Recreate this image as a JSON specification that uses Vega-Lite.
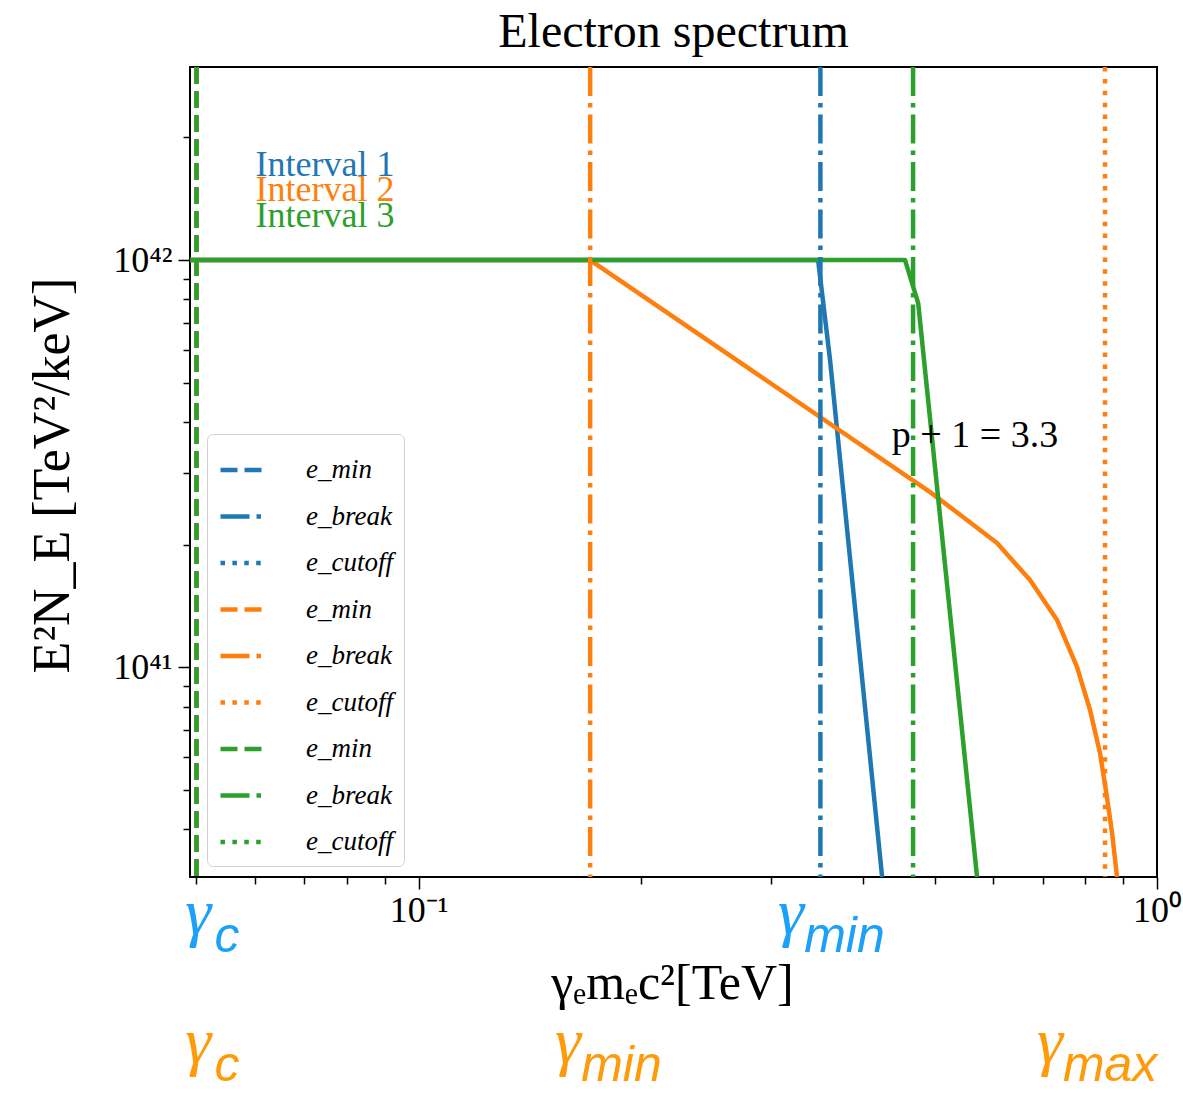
{
  "$schema": "https://vega.github.io/schema/vega-lite/v6.json",
  "width": 967,
  "height": 810,
  "autosize": {"type": "none"},
  "padding": {"left": 190, "top": 67, "right": 26, "bottom": 217},
  "background": "white",
  "config": {
    "view": {"stroke": "#000", "strokeWidth": 2},
    "font": "Liberation Serif"
  },
  "title": {
    "text": "Electron spectrum",
    "fontSize": 48,
    "font": "Liberation Serif",
    "fontWeight": "normal",
    "color": "#000",
    "anchor": "middle",
    "offset": 8
  },
  "datasets": {
    "curves": [
      {"interval": "1", "E": 0.049, "F": 1e42},
      {"interval": "1", "E": 0.3475, "F": 1e42},
      {"interval": "1", "E": 0.3607, "F": 5.68e41},
      {"interval": "1", "E": 0.4243, "F": 3.05e40},
      {"interval": "2", "E": 0.049, "F": 1e42},
      {"interval": "2", "E": 0.1707, "F": 1e42},
      {"interval": "2", "E": 0.4928, "F": 2.69e41},
      {"interval": "2", "E": 0.5461, "F": 2.337e41},
      {"interval": "2", "E": 0.6072, "F": 2.017e41},
      {"interval": "2", "E": 0.673, "F": 1.636e41},
      {"interval": "2", "E": 0.7322, "F": 1.305e41},
      {"interval": "2", "E": 0.7794, "F": 1.0e41},
      {"interval": "2", "E": 0.8115, "F": 7.84e40},
      {"interval": "2", "E": 0.8372, "F": 6.15e40},
      {"interval": "2", "E": 0.8555, "F": 4.79e40},
      {"interval": "2", "E": 0.8693, "F": 3.91e40},
      {"interval": "2", "E": 0.8827, "F": 3.05e40},
      {"interval": "3", "E": 0.049, "F": 1e42},
      {"interval": "3", "E": 0.4558, "F": 1e42},
      {"interval": "3", "E": 0.4748, "F": 7.84e41},
      {"interval": "3", "E": 0.5705, "F": 3.05e40}
    ],
    "vlines": [
      {"key": "1min", "E": 0.05},
      {"key": "1break", "E": 0.35},
      {"key": "2min", "E": 0.05},
      {"key": "2break", "E": 0.1707},
      {"key": "2cutoff", "E": 0.8503},
      {"key": "3min", "E": 0.05},
      {"key": "3break", "E": 0.4673}
    ],
    "notes": [
      {"kind": "interval", "g": "1", "E": 0.0601, "F": 1.711e42, "t": "Interval 1"},
      {"kind": "interval", "g": "2", "E": 0.0601, "F": 1.486e42, "t": "Interval 2"},
      {"kind": "interval", "g": "3", "E": 0.0601, "F": 1.283e42, "t": "Interval 3"},
      {"kind": "note", "g": "note", "E": 0.5668, "F": 3.69e41, "t": "p + 1 = 3.3"},
      {"kind": "gamma", "g": "upper", "E": 0.04829, "F": 2.208e40, "t": "γ"},
      {"kind": "sub", "g": "upper", "E": 0.0529, "F": 1.994e40, "t": "c"},
      {"kind": "gamma", "g": "upper", "E": 0.3067, "F": 2.208e40, "t": "γ"},
      {"kind": "sub", "g": "upper", "E": 0.3327, "F": 1.994e40, "t": "min"},
      {"kind": "gamma", "g": "lower", "E": 0.04829, "F": 1.064e40, "t": "γ"},
      {"kind": "sub", "g": "lower", "E": 0.0529, "F": 9.62e39, "t": "c"},
      {"kind": "gamma", "g": "lower", "E": 0.153, "F": 1.064e40, "t": "γ"},
      {"kind": "sub", "g": "lower", "E": 0.166, "F": 9.62e39, "t": "min"},
      {"kind": "gamma", "g": "lower", "E": 0.6878, "F": 1.064e40, "t": "γ"},
      {"kind": "sub", "g": "lower", "E": 0.7457, "F": 9.62e39, "t": "max"}
    ]
  },
  "layer": [
    {
      "data": {"name": "curves"},
      "mark": {"type": "line", "strokeWidth": 4.5, "clip": true, "strokeJoin": "round"},
      "encoding": {
        "x": {
          "field": "E", "type": "quantitative",
          "scale": {"type": "log", "domain": [0.049, 1.0], "nice": false},
          "axis": {
            "values": [0.05, 0.06, 0.07, 0.08, 0.09, 0.1, 0.2, 0.3, 0.4, 0.5, 0.6, 0.7, 0.8, 0.9, 1],
            "labelExpr": "datum.value > 0.095 && datum.value < 0.105 ? '10⁻¹' : (datum.value > 0.95 ? '10⁰' : '')",
            "labelFont": "Liberation Serif",
            "labelFontSize": 36,
            "labelColor": "#000",
            "labelPadding": 4,
            "labelOverlap": false,
            "labelFlush": false,
            "tickColor": "#000",
            "tickWidth": 1.5,
            "tickSize": {"condition": {"test": "abs(log(datum.value)/LN10 - round(log(datum.value)/LN10)) < 1e-6", "value": 12}, "value": 7},
            "domain": false,
            "grid": false,
            "title": "γₑmₑc²[TeV]",
            "titleFont": "Liberation Serif",
            "titleFontSize": 50,
            "titleFontWeight": "normal",
            "titleColor": "#000",
            "titleX": 482,
            "titleY": 106,
            "titleAlign": "center",
            "titleBaseline": "middle"
          }
        },
        "y": {
          "field": "F", "type": "quantitative",
          "scale": {"type": "log", "domain": [3.05e40, 2.98e42], "nice": false},
          "axis": {
            "values": [4e40, 5e40, 6e40, 7e40, 8e40, 9e40, 1e41, 2e41, 3e41, 4e41, 5e41, 6e41, 7e41, 8e41, 9e41, 1e42, 2e42],
            "labelExpr": "datum.value > 9.5e41 && datum.value < 1.05e42 ? '10⁴²' : (datum.value > 9.5e40 && datum.value < 1.05e41 ? '10⁴¹' : '')",
            "labelFont": "Liberation Serif",
            "labelFontSize": 36,
            "labelColor": "#000",
            "labelPadding": 6,
            "labelOverlap": false,
            "labelFlush": false,
            "tickColor": "#000",
            "tickWidth": 1.5,
            "tickSize": {"condition": {"test": "abs(log(datum.value)/LN10 - round(log(datum.value)/LN10)) < 1e-6", "value": 12}, "value": 7},
            "domain": false,
            "grid": false,
            "title": "E²N_E [TeV²/keV]",
            "titleFont": "Liberation Serif",
            "titleFontSize": 52,
            "titleFontWeight": "normal",
            "titleColor": "#000",
            "titleAngle": -90,
            "titleX": -138,
            "titleY": 408,
            "titleAlign": "center",
            "titleBaseline": "middle"
          }
        },
        "stroke": {
          "field": "interval", "type": "nominal",
          "scale": {"domain": ["1", "2", "3"], "range": ["#1f77b4", "#ff7f0e", "#2ca02c"]},
          "legend": null
        }
      }
    },
    {
      "data": {"name": "vlines"},
      "mark": {"type": "rule", "strokeWidth": 4.5},
      "encoding": {
        "x": {
          "field": "E", "type": "quantitative",
          "scale": {"type": "log", "domain": [0.049, 1.0], "nice": false}
        },
        "color": {
          "field": "key", "type": "nominal",
          "scale": {
            "domain": ["1min", "1break", "1cutoff", "2min", "2break", "2cutoff", "3min", "3break", "3cutoff"],
            "range": ["#1f77b4", "#1f77b4", "#1f77b4", "#ff7f0e", "#ff7f0e", "#ff7f0e", "#2ca02c", "#2ca02c", "#2ca02c"]
          },
          "legend": {
            "orient": "none", "legendX": 17, "legendY": 367, "title": null,
            "symbolType": "stroke", "symbolSize": 2025, "symbolStrokeWidth": 4.5,
            "labelExpr": "indexof(datum.label, 'min') >= 0 ? 'e_min' : (indexof(datum.label, 'break') >= 0 ? 'e_break' : 'e_cutoff')",
            "labelFont": "Liberation Serif", "labelFontStyle": "italic", "labelFontSize": 27, "labelColor": "#000",
            "labelOffset": 38, "padding": 11, "rowPadding": 8.5,
            "fillColor": "white", "strokeColor": "#d0d0d0", "cornerRadius": 6
          }
        },
        "strokeDash": {
          "field": "key", "type": "nominal",
          "scale": {
            "domain": ["1min", "1break", "1cutoff", "2min", "2break", "2cutoff", "3min", "3break", "3cutoff"],
            "range": [[17, 7], [29, 7, 4.5, 7], [4.5, 7.4], [17, 7], [29, 7, 4.5, 7], [4.5, 7.4], [17, 7], [29, 7, 4.5, 7], [4.5, 7.4]]
          },
          "legend": {
            "orient": "none", "legendX": 17, "legendY": 367, "title": null,
            "symbolType": "stroke", "symbolSize": 2025, "symbolStrokeWidth": 4.5,
            "labelExpr": "indexof(datum.label, 'min') >= 0 ? 'e_min' : (indexof(datum.label, 'break') >= 0 ? 'e_break' : 'e_cutoff')",
            "labelFont": "Liberation Serif", "labelFontStyle": "italic", "labelFontSize": 27, "labelColor": "#000",
            "labelOffset": 38, "padding": 11, "rowPadding": 8.5,
            "fillColor": "white", "strokeColor": "#d0d0d0", "cornerRadius": 6
          }
        }
      }
    },
    {
      "data": {"name": "notes"},
      "transform": [{"filter": "datum.kind == 'interval'"}],
      "mark": {"type": "text", "align": "left", "baseline": "middle", "font": "Liberation Serif", "fontSize": 36},
      "encoding": {
        "x": {"field": "E", "type": "quantitative", "scale": {"type": "log", "domain": [0.049, 1.0], "nice": false}},
        "y": {"field": "F", "type": "quantitative", "scale": {"type": "log", "domain": [3.05e40, 2.98e42], "nice": false}},
        "text": {"field": "t"},
        "fill": {
          "field": "g", "type": "nominal",
          "scale": {"domain": ["1", "2", "3", "upper", "lower", "note"], "range": ["#1f77b4", "#ff7f0e", "#2ca02c", "#1ba1fa", "#ff9a0a", "#000000"]},
          "legend": null
        }
      }
    },
    {
      "data": {"name": "notes"},
      "transform": [{"filter": "datum.kind == 'note'"}],
      "mark": {"type": "text", "align": "center", "baseline": "middle", "font": "Liberation Serif", "fontSize": 38},
      "encoding": {
        "x": {"field": "E", "type": "quantitative", "scale": {"type": "log", "domain": [0.049, 1.0], "nice": false}},
        "y": {"field": "F", "type": "quantitative", "scale": {"type": "log", "domain": [3.05e40, 2.98e42], "nice": false}},
        "text": {"field": "t"},
        "fill": {
          "field": "g", "type": "nominal",
          "scale": {"domain": ["1", "2", "3", "upper", "lower", "note"], "range": ["#1f77b4", "#ff7f0e", "#2ca02c", "#1ba1fa", "#ff9a0a", "#000000"]},
          "legend": null
        }
      }
    },
    {
      "data": {"name": "notes"},
      "transform": [{"filter": "datum.kind == 'gamma'"}],
      "mark": {"type": "text", "align": "left", "baseline": "alphabetic", "font": "Liberation Serif", "fontStyle": "italic", "fontSize": 66},
      "encoding": {
        "x": {"field": "E", "type": "quantitative", "scale": {"type": "log", "domain": [0.049, 1.0], "nice": false}},
        "y": {"field": "F", "type": "quantitative", "scale": {"type": "log", "domain": [3.05e40, 2.98e42], "nice": false}},
        "text": {"field": "t"},
        "fill": {
          "field": "g", "type": "nominal",
          "scale": {"domain": ["1", "2", "3", "upper", "lower", "note"], "range": ["#1f77b4", "#ff7f0e", "#2ca02c", "#1ba1fa", "#ff9a0a", "#000000"]},
          "legend": null
        }
      }
    },
    {
      "data": {"name": "notes"},
      "transform": [{"filter": "datum.kind == 'sub'"}],
      "mark": {"type": "text", "align": "left", "baseline": "alphabetic", "font": "Liberation Sans", "fontStyle": "italic", "fontSize": 50},
      "encoding": {
        "x": {"field": "E", "type": "quantitative", "scale": {"type": "log", "domain": [0.049, 1.0], "nice": false}},
        "y": {"field": "F", "type": "quantitative", "scale": {"type": "log", "domain": [3.05e40, 2.98e42], "nice": false}},
        "text": {"field": "t"},
        "fill": {
          "field": "g", "type": "nominal",
          "scale": {"domain": ["1", "2", "3", "upper", "lower", "note"], "range": ["#1f77b4", "#ff7f0e", "#2ca02c", "#1ba1fa", "#ff9a0a", "#000000"]},
          "legend": null
        }
      }
    }
  ]
}
